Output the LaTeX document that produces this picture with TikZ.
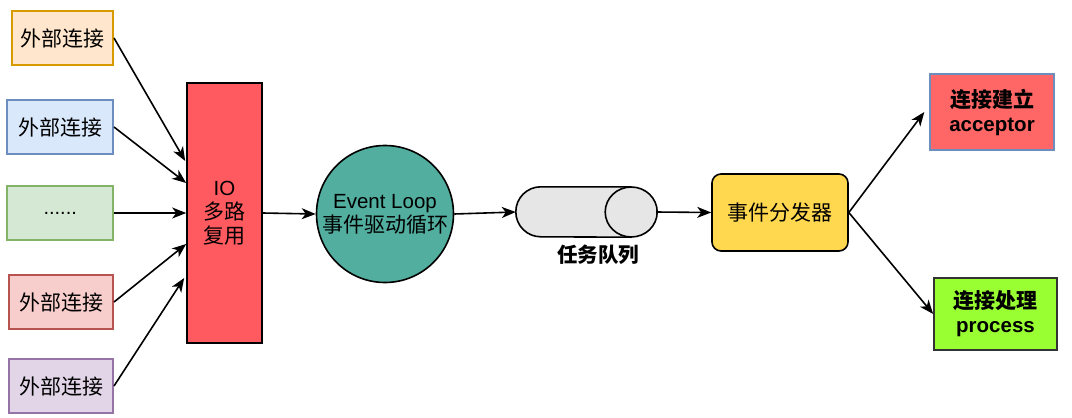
\documentclass[tikz,border=0pt]{standalone}
\usepackage{fontspec}
\setmainfont{Liberation Sans}
\newfontfamily\cjk{Noto Sans CJK SC}
\usetikzlibrary{arrows.meta}
\definecolor{oF}{HTML}{FFE6CC}\definecolor{oD}{HTML}{D79B00}
\definecolor{bF}{HTML}{DAE8FC}\definecolor{bD}{HTML}{6C8EBF}
\definecolor{gF}{HTML}{D5E8D4}\definecolor{gD}{HTML}{82B366}
\definecolor{rF}{HTML}{F8CECC}\definecolor{rD}{HTML}{B85450}
\definecolor{pF}{HTML}{E1D5E7}\definecolor{pD}{HTML}{9673A6}
\definecolor{ioF}{HTML}{FF5A5F}
\definecolor{elF}{HTML}{52AE9F}
\definecolor{qF}{HTML}{E6E6E6}
\definecolor{dsF}{HTML}{FFD850}
\definecolor{acF}{HTML}{FF6666}
\definecolor{prF}{HTML}{99FF33}
\definecolor{prD}{HTML}{333333}
\tikzset{
  ext/.style={draw, line width=1.6pt, minimum height=54pt, anchor=east, inner sep=0pt,
    font=\cjk\fontsize{21}{25}\selectfont},
  conn/.style={-{Stealth[length=14pt,width=11pt,inset=4pt]}, line width=1.6pt, black},
  big/.style={font=\fontsize{20.5}{24}\selectfont, align=center, inner sep=0pt},
}
\begin{document}
\begin{tikzpicture}[x=1pt,y=-1pt]
\useasboundingbox (0,0) rectangle (1072,418);
% left inputs
\node[ext, fill=oF, draw=oD, minimum width=101pt] (e1) at (114,38) {外部连接};
\node[ext, fill=bF, draw=bD, minimum width=106pt] (e2) at (114,127) {外部连接};
\node[ext, fill=gF, draw=gD, minimum width=106pt, font=\fontsize{20}{24}\selectfont] (e3) at (114,213) {......};
\node[ext, fill=rF, draw=rD, minimum width=104pt] (e4) at (114,302) {外部连接};
\node[ext, fill=pF, draw=pD, minimum width=104pt] (e5) at (114,386) {外部连接};
% IO multiplexing
\node[draw, line width=1.6pt, fill=ioF, minimum width=75pt, minimum height=260pt, big] (io) at (224.5,213)
  {IO\\{\cjk\fontsize{21}{24}\selectfont 多路}\\{\cjk\fontsize{21}{24}\selectfont 复用}};
% event loop
\node[draw, circle, line width=1.6pt, fill=elF, minimum size=137pt, big] (el) at (385,214)
  {Event Loop\\{\cjk\fontsize{21}{24}\selectfont 事件驱动循环}};
% queue
\node[minimum width=140pt, minimum height=50pt, inner sep=0pt] (q) at (586,212) {};
\fill[qF] ([xshift=25pt]q.north west) arc[start angle=90,end angle=270,radius=25pt]
   -- ([xshift=-25pt]q.south east) arc[start angle=-90,end angle=90,radius=25pt] -- cycle;
\draw[line width=1.6pt] ([xshift=-25pt]q.north east) -- ([xshift=25pt]q.north west)
   arc[start angle=90,end angle=270,radius=25pt] -- ([xshift=-25pt]q.south east);
\draw[line width=1.6pt] ([xshift=-25pt]q.east) circle[x radius=26pt, y radius=25pt];
\node[font=\cjk\bfseries\fontsize{20.5}{24}\selectfont, inner sep=0pt] (ql) at (598,255) {任务队列};
% dispatcher
\node[draw, rounded corners=9pt, line width=1.6pt, fill=dsF, minimum width=136pt, minimum height=77pt,
  font=\cjk\fontsize{21}{25}\selectfont] (ds) at (780,212.5) {事件分发器};
% acceptor
\node[draw=bD, line width=1.4pt, fill=acF, minimum width=124pt, minimum height=76pt, big,
  font=\bfseries\fontsize{20.5}{24}\selectfont] (ac) at (992,112) {{\cjk\bfseries\fontsize{21}{24}\selectfont 连接建立}\\acceptor};
% process
\node[draw=prD, line width=1.6pt, fill=prF, minimum width=123pt, minimum height=72pt, big,
  font=\bfseries\fontsize{20.5}{24}\selectfont] (pr) at (995.5,314) {{\cjk\bfseries\fontsize{21}{24}\selectfont 连接处理}\\process};
% connectors
\draw[conn] (e1.east) -- ([xshift=-1pt,yshift=52pt]io.west);
\draw[conn] (e2.east) -- ([yshift=30pt]io.west);
\draw[conn] (e3.east) -- (io.west);
\draw[conn] (e4.east) -- ([yshift=-31pt]io.west);
\draw[conn] (e5.east) -- ([xshift=-2pt,yshift=-65pt]io.west);
\draw[conn] (io.east) -- (el.west);
\draw[conn] (el.east) -- (q.west);
\draw[conn] (q.east) -- (ds.west);
\draw[conn] (ds.east) -- ([xshift=-5pt]ac.west);
\draw[conn] (ds.east) -- (pr.west);
\end{tikzpicture}
\end{document}
